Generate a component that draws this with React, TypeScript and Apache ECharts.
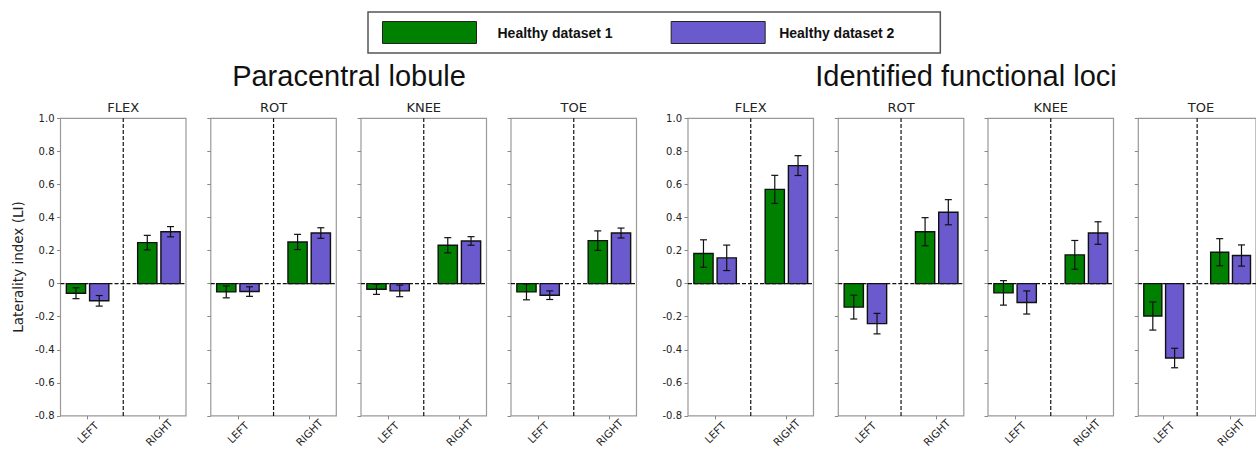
import React, { useEffect, useRef } from 'react';
import * as echarts from 'echarts';

const panelNames = ['FLEX', 'ROT', 'KNEE', 'TOE'];
const categories = ['LEFT', 'RIGHT'];
const groupTitles = ['Paracentral lobule', 'Identified functional loci'];
const seriesNames = ['Healthy dataset 1', 'Healthy dataset 2'];
const yLabel = 'Laterality index (LI)';

// Paracentral lobule: per panel [LEFT, RIGHT]
const plMean1 = [[-0.058, 0.248], [-0.05, 0.252], [-0.034, 0.232], [-0.05, 0.26]];
const plErr1 = [[0.033, 0.044], [0.036, 0.046], [0.031, 0.046], [0.048, 0.059]];
const plMean2 = [[-0.104, 0.314], [-0.048, 0.306], [-0.044, 0.258], [-0.07, 0.306]];
const plErr2 = [[0.032, 0.031], [0.029, 0.032], [0.035, 0.026], [0.026, 0.03]];

// Identified functional loci: per panel [LEFT, RIGHT]
const iflMean1 = [[0.182, 0.57], [-0.142, 0.314], [-0.056, 0.174], [-0.196, 0.19]];
const iflErr1 = [[0.083, 0.085], [0.072, 0.085], [0.074, 0.087], [0.085, 0.082]];
const iflMean2 = [[0.156, 0.714], [-0.242, 0.432], [-0.114, 0.306], [-0.45, 0.17]];
const iflErr2 = [[0.077, 0.06], [0.062, 0.076], [0.07, 0.068], [0.059, 0.064]];

const colors = ['#008000', '#6a5acd'];
const panelLefts = [60.5, 210.8, 361, 511, 688, 838.3, 988, 1138.3];
const panelWidth = 125.5;
const panelTop = 118.3;
const panelHeight = 299.4;
const xMin = -0.38;
const xMax = 1.38;
const barW = 0.27;
const offsets = [-0.163, 0.163];

function makeRender(off: number, color: string) {
  return (params: any, api: any) => {
    const xv = api.value(0) + off;
    const y = api.value(1);
    const e = api.value(2);
    const a = api.coord([xv - barW / 2, 0]);
    const b = api.coord([xv + barW / 2, y]);
    const t = api.coord([xv, y + e]);
    const bt = api.coord([xv, y - e]);
    const cap = 3.5;
    const ls = { stroke: '#111', lineWidth: 1.2 };
    return {
      type: 'group',
      children: [
        {
          type: 'rect',
          shape: { x: a[0], y: Math.min(a[1], b[1]), width: b[0] - a[0], height: Math.abs(b[1] - a[1]) },
          style: { fill: color, stroke: '#111', lineWidth: 1.4 },
        },
        { type: 'line', shape: { x1: t[0], y1: t[1], x2: bt[0], y2: bt[1] }, style: ls },
        { type: 'line', shape: { x1: t[0] - cap, y1: t[1], x2: t[0] + cap, y2: t[1] }, style: ls },
        { type: 'line', shape: { x1: bt[0] - cap, y1: bt[1], x2: bt[0] + cap, y2: bt[1] }, style: ls },
      ],
    };
  };
}

export default function App() {
  const ref = useRef<HTMLDivElement>(null);
  useEffect(() => {
    if (!ref.current) return;
    const chart = echarts.init(ref.current, null, { renderer: 'svg' });
    const means = [
      [...plMean1, ...iflMean1],
      [...plMean2, ...iflMean2],
    ];
    const errs = [
      [...plErr1, ...iflErr1],
      [...plErr2, ...iflErr2],
    ];
    const grids: any[] = [];
    const xAxes: any[] = [];
    const yAxes: any[] = [];
    const series: any[] = [];
    const titles: any[] = [];
    const groupCenters = [349, 966];
    groupTitles.forEach((g, i) => {
      titles.push({
        text: g,
        left: groupCenters[i],
        top: 61,
        padding: 0,
        textAlign: 'center',
        textStyle: { fontFamily: 'Liberation Sans', fontSize: 29, fontWeight: 'normal', color: '#111' },
      });
    });
    panelLefts.forEach((left, p) => {
      const name = panelNames[p % 4];
      grids.push({
        left,
        top: panelTop,
        width: panelWidth,
        height: panelHeight,
        show: true,
        borderColor: '#999',
        borderWidth: 1.2,
        backgroundColor: 'transparent',
      });
      titles.push({
        text: name,
        left: left + panelWidth / 2,
        top: 101,
        padding: 0,
        textAlign: 'center',
        textStyle: { fontFamily: 'DejaVu Sans', fontSize: 13, fontWeight: 'normal', color: '#222' },
      });
      xAxes.push({
        gridIndex: p,
        type: 'value',
        min: xMin,
        max: xMax,
        splitLine: { show: false },
        axisLine: { show: false, onZero: false },
        axisTick: { show: true, customValues: [0, 1], length: 3.5, lineStyle: { color: '#888' } },
        axisLabel: {
          customValues: [0, 1],
          formatter: (v: number) => categories[Math.round(v)],
          rotate: 45,
          align: 'center',
          verticalAlign: 'middle',
          margin: 16.5,
          fontFamily: 'DejaVu Sans',
          fontSize: 10.5,
          color: '#222',
        },
      });
      yAxes.push({
        gridIndex: p,
        type: 'value',
        min: -0.8,
        max: 1.0,
        interval: 0.2,
        splitLine: { show: false },
        axisLine: { show: false, onZero: false },
        axisTick: { show: true, length: 3.5, lineStyle: { color: '#888' } },
        axisLabel: {
          show: p % 4 === 0,
          formatter: (v: number) => (Math.abs(v) < 1e-9 ? '0' : v.toFixed(1)),
          fontFamily: 'DejaVu Sans',
          fontSize: 10,
          color: '#222',
          margin: 6,
        },
        name: p === 0 ? yLabel : '',
        nameLocation: 'middle',
        nameGap: 36,
        nameTextStyle: { fontFamily: 'DejaVu Sans', fontSize: 13.5, color: '#222' },
      });
      series.push({
        type: 'line',
        xAxisIndex: p,
        yAxisIndex: p,
        data: [[xMin, 0], [xMax, 0]],
        symbol: 'none',
        silent: true,
        z: 1,
        lineStyle: { color: '#111', width: 1.2, type: [4, 2] },
      });
      series.push({
        type: 'line',
        xAxisIndex: p,
        yAxisIndex: p,
        data: [[0.5, -0.8], [0.5, 1.0]],
        symbol: 'none',
        silent: true,
        z: 1,
        lineStyle: { color: '#111', width: 1.2, type: [4, 2] },
      });
      [0, 1].forEach((d) => {
        series.push({
          type: 'custom',
          name: seriesNames[d],
          xAxisIndex: p,
          yAxisIndex: p,
          z: 3,
          itemStyle: { color: colors[d] },
          renderItem: makeRender(offsets[d], colors[d]),
          data: categories.map((c, i) => [i, means[d][p][i], errs[d][p][i]]),
        });
      });
    });

    chart.setOption({
      animation: false,
      backgroundColor: '#fff',
      title: titles,
      legend: {
        data: [
          { name: seriesNames[0], textStyle: { padding: [0, 0, 0, 16] } },
          { name: seriesNames[1], textStyle: { padding: [0, 0, 0, 9] } },
        ],
        left: 368,
        top: 12,
        orient: 'horizontal',
        padding: [9, 46, 9, 14],
        itemWidth: 94,
        itemHeight: 22,
        itemGap: 58,
        icon: 'rect',
        borderColor: '#555',
        borderWidth: 1.5,
        selectedMode: false,
        itemStyle: { borderColor: '#222', borderWidth: 1 },
        textStyle: {
          fontFamily: 'Liberation Sans',
          fontWeight: 'bold',
          fontSize: 14,
          color: '#111',
        },
      },
      grid: grids,
      xAxis: xAxes,
      yAxis: yAxes,
      series,
    });
    return () => chart.dispose();
  }, []);
  return <div ref={ref} style={{ position: 'absolute', left: 0, top: 0, width: 1256, height: 450 }} />;
}
